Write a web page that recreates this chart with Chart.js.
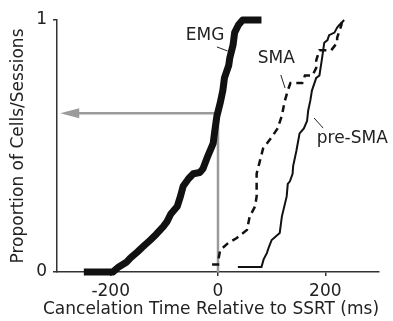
<!DOCTYPE html>
<html lang="en">
<head>
  <meta charset="UTF-8">
  <title>Cancelation Time CDF</title>
  <script src="https://cdn.jsdelivr.net/npm/chart.js"></script>
  <style>
    body {
      margin: 0;
      padding: 0;
      background-color: #fff;
    }
    .chart-container {
      position: relative;
      width: 393px;
      height: 321px;
    }
  </style>
</head>
<body>
  <div class="chart-container">
    <canvas id="cdfChart" width="393" height="321"></canvas>
  </div>

  <script>
    // Cancelation time (ms, relative to SSRT) and cumulative proportion
    const emgTimes = [-250, -196, -185, -170, -163, -150, -140, -126, -115, -102, -95, -88, -76, -70, -65, -55, -46, -34, -28, -19, -9, -6, -2, 4, 9, 12, 20, 22, 28, 31, 38, 46, 81];
    const emgProp  = [0, 0, 0.02, 0.04, 0.056, 0.08, 0.10, 0.127, 0.15, 0.18, 0.20, 0.23, 0.26, 0.30, 0.34, 0.37, 0.39, 0.395, 0.41, 0.46, 0.51, 0.56, 0.62, 0.67, 0.72, 0.77, 0.82, 0.85, 0.90, 0.95, 0.98, 1.0, 1.0];

    const smaTimes = [-11, 0, 0, 4, 19, 35, 54, 59, 69, 72, 72, 78, 84, 100, 111, 119, 124, 130, 135, 157, 162, 176, 183, 183, 189, 211, 222, 222, 230, 231];
    const smaProp  = [0.03, 0.03, 0.04, 0.087, 0.115, 0.135, 0.167, 0.22, 0.26, 0.30, 0.39, 0.44, 0.49, 0.535, 0.57, 0.62, 0.675, 0.72, 0.75, 0.75, 0.78, 0.78, 0.81, 0.84, 0.88, 0.88, 0.91, 0.93, 0.98, 1.0];

    const preSmaTimes = [37, 81, 85, 91, 95, 100, 115, 119, 128, 130, 134, 139, 140, 146, 152, 160, 166, 168, 172, 175, 183, 189, 194, 198, 204, 207, 217, 222, 226, 231, 235];
    const preSmaProp  = [0.02, 0.02, 0.05, 0.075, 0.10, 0.127, 0.155, 0.22, 0.30, 0.35, 0.36, 0.39, 0.42, 0.48, 0.55, 0.57, 0.60, 0.64, 0.68, 0.72, 0.77, 0.78, 0.85, 0.91, 0.92, 0.94, 0.95, 0.97, 0.98, 0.99, 1.0];

    // gray guide: EMG proportion reached at SSRT
    const guideTimes = [0, 0, -262];
    const guideProp  = [0, 0.63, 0.63];
    const arrowTipTime = -294;

    const xTicks = [-200, 0, 200];
    const yTicks = [0, 1];
    const xTitle = 'Cancelation Time Relative to SSRT (ms)';
    const yTitle = 'Proportion of Cells/Sessions';

    // curve labels and their short leader lines (data coordinates)
    const labelText = ['EMG', 'SMA', 'pre-SMA'];
    const labelTime = [-60, 74, 184];
    const labelProp = [0.937, 0.845, 0.528];
    const leaderFrom = [[-2, 0.893], [117, 0.782], [179, 0.611]];
    const leaderTo   = [[18, 0.877], [125, 0.730], [196, 0.571]];

    const textColor = '#222';
    const axisColor = '#333';
    const fontFamily = 'DejaVu Sans';

    const toPoints = (xs, ys) => xs.map((x, i) => ({ x: x, y: ys[i] }));

    const annotations = {
      id: 'annotations',
      afterDatasetsDraw(chart) {
        const c = chart.ctx;
        const xs = chart.scales.x;
        const ys = chart.scales.y;
        c.save();

        // arrow head on the gray guide
        const tipX = xs.getPixelForValue(arrowTipTime);
        const tipY = ys.getPixelForValue(guideProp[1]);
        c.fillStyle = '#9b9b9b';
        c.beginPath();
        c.moveTo(tipX, tipY);
        c.lineTo(tipX + 19, tipY - 5);
        c.lineTo(tipX + 19, tipY + 5);
        c.closePath();
        c.fill();

        // leader lines
        c.strokeStyle = textColor;
        c.lineWidth = 1;
        leaderFrom.forEach((p, i) => {
          c.beginPath();
          c.moveTo(xs.getPixelForValue(p[0]), ys.getPixelForValue(p[1]));
          c.lineTo(xs.getPixelForValue(leaderTo[i][0]), ys.getPixelForValue(leaderTo[i][1]));
          c.stroke();
        });

        // labels
        c.fillStyle = textColor;
        c.font = '17px "' + fontFamily + '"';
        c.textAlign = 'left';
        c.textBaseline = 'middle';
        labelText.forEach((t, i) => {
          c.fillText(t, xs.getPixelForValue(labelTime[i]), ys.getPixelForValue(labelProp[i]));
        });

        // x axis title is wider than the axis, so draw it without squeezing
        c.textAlign = 'center';
        c.fillText(xTitle, 211, 310);
        c.restore();
      }
    };

    const ctx = document.getElementById('cdfChart').getContext('2d');

    new Chart(ctx, {
      type: 'line',
      data: {
        datasets: [
          {
            label: 'EMG',
            data: toPoints(emgTimes, emgProp),
            borderColor: '#111',
            borderWidth: 7,
            borderJoinStyle: 'round',
            borderCapStyle: 'butt',
            pointRadius: 0,
            clip: false,
            order: 1
          },
          {
            label: 'SMA',
            data: toPoints(smaTimes, smaProp),
            borderColor: '#111',
            borderWidth: 2.5,
            borderDash: [7, 5],
            pointRadius: 0,
            clip: false,
            order: 2
          },
          {
            label: 'pre-SMA',
            data: toPoints(preSmaTimes, preSmaProp),
            borderColor: '#111',
            borderWidth: 2,
            pointRadius: 0,
            clip: false,
            order: 3
          },
          {
            label: 'guide',
            data: toPoints(guideTimes, guideProp),
            borderColor: '#9b9b9b',
            borderWidth: 2.5,
            borderJoinStyle: 'miter',
            pointRadius: 0,
            clip: false,
            order: 4
          }
        ]
      },
      options: {
        responsive: false,
        animation: false,
        layout: {
          padding: { top: 20, right: 14, left: 0, bottom: 0 }
        },
        plugins: {
          legend: { display: false },
          tooltip: { enabled: false }
        },
        scales: {
          x: {
            type: 'linear',
            min: -300,
            max: 300,
            afterBuildTicks: s => { s.ticks = xTicks.map(v => ({ value: v })); },
            afterFit: s => { s.height = 49; },
            ticks: {
              autoSkip: false,
              maxRotation: 0,
              padding: 5,
              color: textColor,
              font: { family: fontFamily, size: 17 }
            },
            grid: { drawOnChartArea: false, tickLength: 4, color: axisColor, lineWidth: 1.5 },
            border: { color: axisColor, width: 1.5 }
          },
          y: {
            type: 'linear',
            min: 0,
            max: 1,
            afterBuildTicks: s => { s.ticks = yTicks.map(v => ({ value: v })); },
            afterFit: s => { s.width = 57; },
            ticks: {
              padding: 6,
              color: textColor,
              font: { family: fontFamily, size: 17 }
            },
            grid: { drawOnChartArea: false, tickLength: 4, color: axisColor, lineWidth: 1.5 },
            border: { color: axisColor, width: 1.5 },
            title: {
              display: true,
              text: yTitle,
              color: textColor,
              font: { family: fontFamily, size: 17 },
              padding: { top: 8, bottom: 0 }
            }
          }
        }
      },
      plugins: [annotations]
    });
  </script>
</body>
</html>
